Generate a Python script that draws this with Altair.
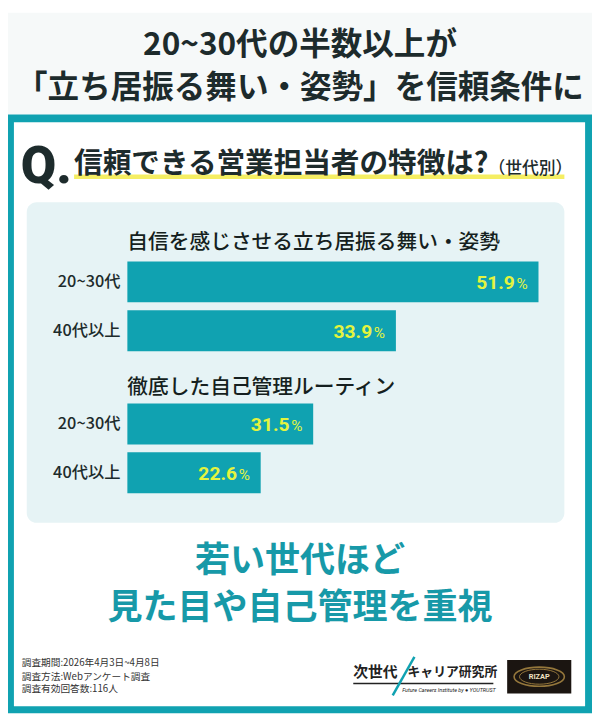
import altair as alt
import pandas as pd

# ---------------- data ----------------
TITLE_LINES = ["20~30代の半数以上が", "「立ち居振る舞い・姿勢」を信頼条件に"]
QUESTION = "信頼できる営業担当者の特徴は?"
QUESTION_SUB = "（世代別）"
GROUPS = ["自信を感じさせる立ち居振る舞い・姿勢", "徹底した自己管理ルーティン"]
AGES = ["20~30代", "40代以上"]
VALUES_G1 = [51.9, 33.9]
VALUES_G2 = [31.5, 22.6]
CONCLUSION = ["若い世代ほど", "見た目や自己管理を重視"]
FOOTER = ["調査期間:2026年4月3日~4月8日", "調査方法:Webアンケート調査", "調査有効回答数:116人"]
LOGO_A = "次世代"
LOGO_B = "キャリア研究所"
LOGO_SUB = "Future Careers Institute by  ● YOUTRUST"
RIZAP = "RIZAP"

# ---------------- style ----------------
JP = "Noto Sans CJK JP"
NUM = "Roboto"
TEAL = "#10a2b1"
TEAL_TXT = "#1799a8"
DARK = "#1d2b2c"
YELLOW = "#e4f43e"
PANEL = "#e6f3f5"
TOPBG = "#f6f9f9"
W, H = 592, 710


def rect(x1, x2, y1, y2, color, **kw):
    return alt.Chart().mark_rect(color=color, **kw).encode(
        x=alt.value(x1), x2=alt.value(x2), y=alt.value(y1), y2=alt.value(y2))


def txt(s, x, y, size, color=DARK, weight="normal", align="left",
        baseline="middle", font=JP, **kw):
    return alt.Chart().mark_text(
        text=s, fontSize=size, color=color, fontWeight=weight, align=align,
        baseline=baseline, font=font, **kw).encode(x=alt.value(x), y=alt.value(y))


def rule(x1, x2, y1, y2, color, width):
    return alt.Chart().mark_rule(color=color, strokeWidth=width).encode(
        x=alt.value(x1), x2=alt.value(x2), y=alt.value(y1), y2=alt.value(y2))


def group(values, px_per_pct, y_range):
    df = pd.DataFrame({"age": AGES, "value": values})
    xs = alt.Scale(domain=[0, 100], range=[121, 121 + 100 * px_per_pct])
    ys = alt.Scale(domain=AGES, range=y_range, paddingInner=0.16, paddingOuter=0)
    X = alt.X("value:Q", scale=xs, axis=None)
    Y = alt.Y("age:N", scale=ys, axis=None, sort=AGES)
    base = alt.Chart(df)
    bars = base.mark_bar(color=TEAL).encode(x=X, y=Y)
    labels = base.mark_text(align="right", baseline="middle", font=JP,
                            fontSize=16.5, fontWeight=500, color=DARK).encode(
        x=alt.value(114), y=Y, text="age:N")
    nums = base.mark_text(align="right", baseline="alphabetic", font=NUM,
                          fontWeight="bold", fontSize=19.5, color=YELLOW,
                          dx=-24, dy=7).encode(
        x=X, y=Y, text=alt.Text("value:Q", format=".1f"))
    pcts = base.mark_text(align="right", baseline="alphabetic", font=NUM,
                          fontWeight="normal", fontSize=15.5, color=YELLOW,
                          dx=-11, dy=7, text="%").encode(x=X, y=Y)
    return alt.layer(bars, labels, nums, pcts)


ellipse = "M-1,0A1,0.38,0,1,1,1,0A1,0.38,0,1,1,-1,0Z"

layers = [
    # backgrounds / frame
    rect(0, W, 0, 103, TOPBG),
    rect(0, W, 103, H, TEAL),
    rect(6, 585, 111, 703, "#ffffff"),
    rect(19, 564, 192, 517, PANEL, cornerRadius=10),
    # title
    txt(TITLE_LINES[0], W / 2, 33, 32, weight="bold", align="center"),
    txt(TITLE_LINES[1], W / 2, 76, 32, weight="bold", align="center"),
    # question
    rect(67, 564, 164, 168.5, "#f2ea3c", opacity=0.8),
    txt("Q.", 13, 173, 52, weight=900, baseline="alphabetic", font=NUM),
    txt(QUESTION, 67, 153, 29, weight="bold"),
    txt(QUESTION_SUB, 487, 158, 17, weight=500),
    # group headers
    txt(GROUPS[0], 121, 233, 21, weight=500, color="#151f20"),
    txt(GROUPS[1], 121, 380, 21, weight=500, color="#151f20"),
    # bars
    group(VALUES_G1, 8.03, [252, 343]),
    group(VALUES_G2, 5.98, [396, 487]),
    # conclusion
    txt(CONCLUSION[0], W / 2, 556, 35.5, color=TEAL_TXT, weight="bold", align="center"),
    txt(CONCLUSION[1], W / 2, 604, 35.5, color=TEAL_TXT, weight="bold", align="center"),
    # footer
    txt(FOOTER[0], 14, 659, 9.8, color="#333333"),
    txt(FOOTER[1], 14, 673, 9.8, color="#333333"),
    txt(FOOTER[2], 14, 686, 9.8, color="#333333"),
    # logo 1
    txt(LOGO_A, 350, 668, 15, color="#222222", weight="bold"),
    txt(LOGO_B, 405, 668, 13, color="#222222", weight="bold"),
    rule(350, 492, 680, 680, "#222222", 1.5),
    txt(LOGO_SUB, 447, 686, 5.5, color="#222222", align="center", font=NUM,
        fontStyle="italic"),
    rule(412, 390, 653, 692, TEAL, 2.5),
    # logo 2
    rect(506, 571, 656, 690, "#1b1511"),
    alt.Chart().mark_point(shape=ellipse, size=2600, filled=False,
                           stroke="#c9a14e", strokeWidth=1.6).encode(
        x=alt.value(538.5), y=alt.value(673)),
    alt.Chart().mark_point(shape=ellipse, size=1600, filled=False,
                           stroke="#c9a14e", strokeWidth=1.0).encode(
        x=alt.value(538.5), y=alt.value(673)),
    txt(RIZAP, 538.5, 673, 7.5, color="#efe3c4", weight="bold", align="center",
        font=NUM),
]

chart = alt.layer(*layers, data=alt.Data(values=[{"k": 0}])).resolve_scale(
    x="independent", y="independent"
).properties(
    width=W, height=H, autosize=alt.AutoSizeParams(type="none"), padding=0,
    background="#ffffff"
).configure_view(strokeWidth=0)

chart.save("out.html", embed_options={"renderer": "svg", "actions": False})
